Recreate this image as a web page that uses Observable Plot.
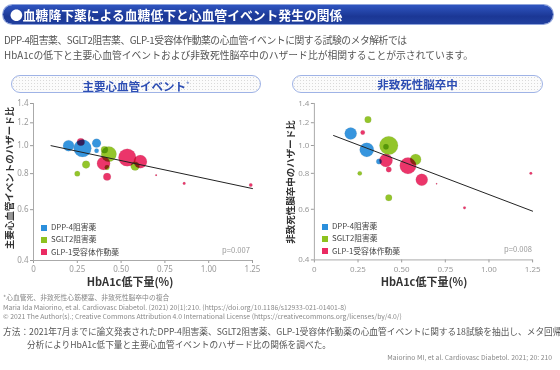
<!DOCTYPE html>
<html><head><meta charset="utf-8">
<script src="https://cdn.jsdelivr.net/npm/d3@7"></script>
<script src="https://cdn.jsdelivr.net/npm/@observablehq/plot@0.6"></script>
<style>
body{margin:0;width:560px;height:370px;background:#fff;font-family:"Noto Sans CJK JP","Noto Sans",sans-serif;position:relative;overflow:hidden;color:#444}
.abs{position:absolute;white-space:nowrap}
.bar{left:3px;top:5px;width:550px;height:19px;border-radius:10px;background:linear-gradient(#2f55c0,#1b3795 60%,#21409f);box-shadow:0 0 0 1px #8ea3dc}
.bar span{position:absolute;left:7px;top:1px;color:#fff;font-weight:bold;font-size:12.8px;line-height:17px}
.intro{left:4px;font-size:9.8px;color:#555;line-height:12px}
.pill{top:75px;height:16px;border:1px solid #9fb3e6;border-radius:9px;background-color:#fbfbfb;background-image:radial-gradient(#d9d9d9 0.6px,transparent 0.7px);background-size:3px 3px;text-align:center;color:#2c4db3;font-weight:bold;font-size:11.5px;line-height:16px}
.pill sup{font-size:7px;color:#7a90d0;vertical-align:4px}
.ylab{font-size:9.5px;font-weight:bold;color:#333;transform:translate(-50%,-50%) rotate(-90deg)}
.xlab{font-size:11px;font-weight:bold;color:#333;transform:translateX(-50%)}
.leg{font-size:7.8px;color:#444;line-height:10px}
.leg i{display:inline-block;width:6px;height:6px;margin-right:4px;vertical-align:-0.5px}
.pv{font-size:7.6px;color:#999}
.foot{left:3px;font-size:6.8px;color:#888}
.meth{font-size:8.7px;color:#555}
</style></head><body>
<div class="abs bar"><span>●血糖降下薬による血糖低下と心血管イベント発生の関係</span></div>
<div class="abs intro" style="top:34px;letter-spacing:-0.45px">DPP-4阻害薬、SGLT2阻害薬、GLP-1受容体作動薬の心血管イベントに関する試験のメタ解析では</div>
<div class="abs intro" style="top:49px">HbA1cの低下と主要心血管イベントおよび非致死性脳卒中のハザード比が相関することが示されています。</div>
<div class="abs pill" style="left:11px;width:248px">主要心血管イベント<sup>*</sup></div>
<div class="abs pill" style="left:292px;width:249px">非致死性脳卒中</div>
<div id="c1" class="abs" style="left:0;top:95px"></div>
<div id="c2" class="abs" style="left:281px;top:95px"></div>
<div class="abs ylab" style="left:9px;top:178px">主要心血管イベントのハザード比</div>
<div class="abs ylab" style="left:290px;top:182px">非致死性脳卒中のハザード比</div>
<div class="abs xlab" style="left:130px;top:273px">HbA1c低下量(%)</div>
<div class="abs xlab" style="left:424px;top:273px">HbA1c低下量(%)</div>
<div id="leg1" class="abs leg" style="left:41px;top:222px"></div>
<div id="leg2" class="abs leg" style="left:322px;top:221px"></div>
<div class="abs pv" style="left:222px;top:244px">p=0.007</div>
<div class="abs pv" style="left:504px;top:243px">p=0.008</div>
<div class="abs foot" style="top:292px">*心血管死、非致死性心筋梗塞、非致死性脳卒中の複合</div>
<div class="abs foot" style="top:302px">Maria Ida Maiorino, et al. Cardiovasc Diabetol. (2021) 20(1):210. (https://doi.org/10.1186/s12933-021-01401-8)</div>
<div class="abs foot" style="top:311px">© 2021 The Author(s).; Creative Commons Attribution 4.0 International License (https://creativecommons.org/licenses/by/4.0/)</div>
<div class="abs meth" style="left:3px;top:325px">方法：2021年7月までに論文発表されたDPP-4阻害薬、SGLT2阻害薬、GLP-1受容体作動薬の心血管イベントに関する18試験を抽出し、メタ回帰</div>
<div class="abs meth" style="left:27px;top:338px">分析によりHbA1c低下量と主要心血管イベントのハザード比の関係を調べた。</div>
<div class="abs foot" style="left:auto;right:8px;top:352px">Maiorino MI, et al. Cardiovasc Diabetol. 2021; 20: 210</div>
<script>
const groups = ["DPP-4阻害薬", "SGLT2阻害薬", "GLP-1受容体作動薬"];
const groupColors = ["#2b8fdc", "#8dc21f", "#ea2a62"];
const xTicks = [0, 0.25, 0.5, 0.75, 1.0, 1.25];
const yTicks = [0.4, 0.6, 0.8, 1.0, 1.2, 1.4];

// [HbA1c reduction, hazard ratio, bubble weight]
const mace_dpp4 = [[0.20,1.00,25],[0.28,0.98,64],[0.36,1.02,16],[0.36,0.96,4]];
const mace_sglt2 = [[0.43,0.935,49],[0.405,0.968,10],[0.30,0.86,12],[0.25,0.80,6],[0.58,0.85,16],[0.42,0.84,5]];
const mace_glp1 = [[0.27,1.03,12],[0.40,0.868,36],[0.535,0.91,64],[0.61,0.88,36],[0.42,0.78,12],[0.70,0.79,0.6],[0.86,0.74,1.5],[1.24,0.73,2.5]];
const mace_fit = [[0.10,1.00],[1.25,0.71]];

const stroke_dpp4 = [[0.208,1.10,30],[0.30,0.966,42],[0.37,0.88,6]];
const stroke_sglt2 = [[0.307,1.23,9],[0.426,1.0,72],[0.41,0.99,6],[0.58,0.894,25],[0.26,0.80,4],[0.426,0.658,9]];
const stroke_glp1 = [[0.277,1.11,4],[0.41,0.887,36],[0.536,0.85,56],[0.426,0.825,6],[0.615,0.76,30],[1.24,0.80,1.5],[0.70,0.736,0.4],[0.86,0.607,1.5]];
const stroke_fit = [[0.11,1.083],[1.25,0.591]];

function rows(sets){
  const out=[];
  sets.forEach((s,i)=>s.forEach(([x,y,w])=>out.push({x,y,w,g:groups[i]})));
  return out.sort((a,b)=>b.w-a.w);
}
function chart(sets, fit){
  const data = rows(sets);
  return Plot.plot({
    width: 280, height: 205,
    marginLeft: 33, marginRight: 28, marginTop: 8, marginBottom: 40,
    style: {fontSize: "8px", fontFamily: "'Noto Sans','Noto Sans CJK JP',sans-serif", color: "#9a9a9a", background: "transparent"},
    x: {domain: [0, 1.25], ticks: xTicks, tickFormat: d => d === 0 ? "0" : d3.format(".2f")(d), label: null, tickSize: 3, tickPadding: 3},
    y: {type: "log", domain: [0.4, 1.4], ticks: yTicks, tickFormat: d3.format(".1f"), label: null, tickSize: 3, tickPadding: 2},
    r: {type: "sqrt", domain: [0, 100], range: [0, 11]},
    color: {domain: groups, range: groupColors},
    marks: [
      Plot.ruleX([0], {stroke: "#aaa"}),
      Plot.ruleY([0.4], {stroke: "#aaa"}),
      Plot.dot(data, {x: "x", y: "y", r: "w", fill: "g", fillOpacity: 0.95, stroke: "#888", strokeOpacity: 0.25, strokeWidth: 0.5, mixBlendMode: "multiply"}),
      Plot.line(fit, {x: d => d[0], y: d => d[1], stroke: "#222", strokeWidth: 1})
    ]
  });
}
document.getElementById("c1").append(chart([mace_dpp4, mace_sglt2, mace_glp1], mace_fit));
document.getElementById("c2").append(chart([stroke_dpp4, stroke_sglt2, stroke_glp1], stroke_fit));
for (const id of ["leg1","leg2"]) {
  document.getElementById(id).innerHTML = groups.map((g,i)=>`<div style="margin-bottom:2.3px"><i style="background:${groupColors[i]}"></i>${g}</div>`).join("");
}
</script>
</body></html>
